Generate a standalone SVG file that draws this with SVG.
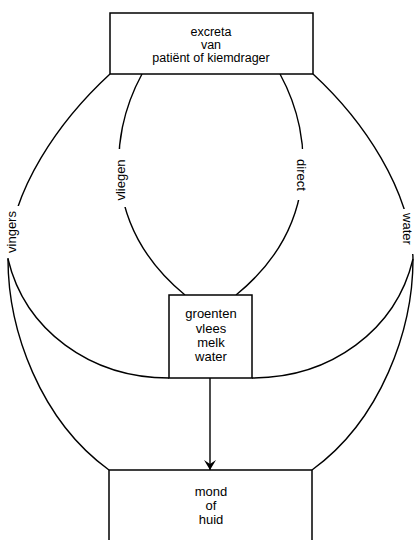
<svg xmlns="http://www.w3.org/2000/svg" width="414" height="540" viewBox="0 0 414 540">
  <style>
    .box { fill: #ffffff; stroke: #000000; stroke-width: 1.5; }
    .edge { fill: none; stroke: #000000; stroke-width: 1.4; }
    .gap { fill: #ffffff; stroke: none; }
    text { font-family: "Liberation Sans", Arial, sans-serif; font-size: 13px; fill: #000000; text-anchor: middle; }
    .src { font-size: 12.5px; }
  </style>
  <defs>
    <marker id="arrow" viewBox="0 0 10 12" refX="10" refY="6" markerWidth="10" markerHeight="12" markerUnits="userSpaceOnUse" orient="auto">
      <path d="M0,0 L10,6 L0,12 L4,6 Z" fill="#000000"/>
    </marker>
  </defs>
  <rect width="414" height="540" fill="#ffffff"/>

  <g id="connectors">
    <!-- outer paths from the source to the left / right turning points -->
    <path class="edge" d="M110,74 C60,120 10,190 8,259"/>
    <path class="edge" d="M313,74 C363,120 411,190 413,259"/>
    <!-- inner paths to the food box -->
    <path class="edge" d="M142,74 C106,140 106,230 185,295"/>
    <path class="edge" d="M280,74 C316,140 316,230 236,295"/>
    <!-- bowls into the food box -->
    <path class="edge" d="M8,259 C25,330 90,378 169,378"/>
    <path class="edge" d="M413,259 C396,330 331,378 252,378"/>
    <!-- direct routes to mouth / skin -->
    <path class="edge" d="M8,259 C8,330 40,420 109,470"/>
    <path class="edge" d="M413,259 C413,330 381,420 312,470"/>
    <!-- food to mouth / skin -->
    <line class="edge" x1="210" y1="378" x2="210" y2="470" marker-end="url(#arrow)"/>

    <!-- label gaps -->
    <rect class="gap" x="2" y="206" width="22" height="52"/>
    <rect class="gap" x="398" y="209" width="16" height="45"/>
    <rect class="gap" x="110" y="149" width="22" height="58"/>
    <rect class="gap" x="289" y="149" width="22" height="51"/>

    <text transform="translate(16,232) rotate(-90)">vingers</text>
    <text transform="translate(125,180) rotate(-90)">vliegen</text>
    <text transform="translate(297,175) rotate(90)">direct</text>
    <text transform="translate(403,229) rotate(90)">water</text>
  </g>

  <g id="bron">
    <rect class="box" x="110" y="13" width="203" height="61"/>
    <text class="src" x="211" y="35.5">excreta</text>
    <text class="src" x="211" y="48.5">van</text>
    <text class="src" x="211" y="61.5">patiënt of kiemdrager</text>
  </g>

  <g id="voedsel">
    <rect class="box" x="169" y="295" width="83" height="83"/>
    <text x="211" y="318">groenten</text>
    <text x="211" y="332.5">vlees</text>
    <text x="211" y="347">melk</text>
    <text x="211" y="361">water</text>
  </g>

  <g id="mond">
    <rect class="box" x="109" y="470" width="203" height="80"/>
    <text x="211" y="496">mond</text>
    <text x="211" y="510">of</text>
    <text x="211" y="524">huid</text>
  </g>
</svg>
